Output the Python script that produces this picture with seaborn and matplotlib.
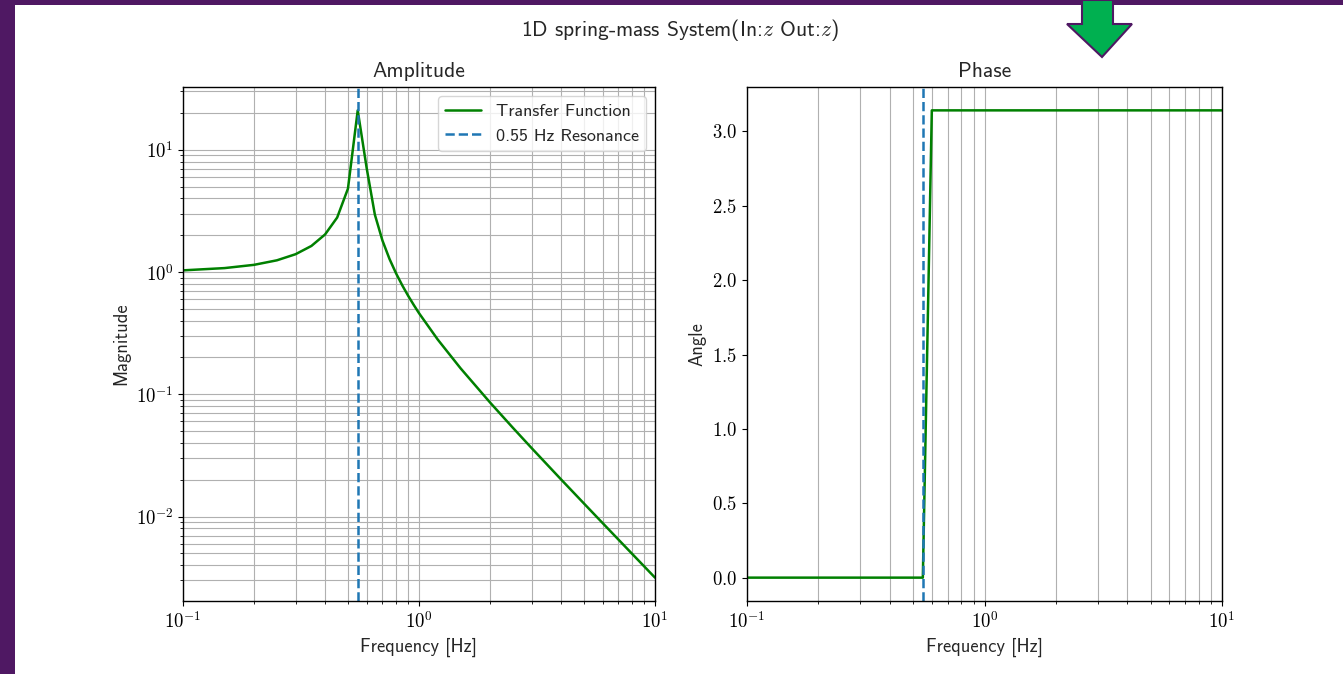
import matplotlib
matplotlib.use("Agg")
import matplotlib.pyplot as plt
import matplotlib.ticker as mticker
from matplotlib.patches import Polygon, Rectangle
import seaborn as sns
import numpy as np

# ---- data ----
freq = [0.1, 0.15, 0.2, 0.25, 0.3, 0.35, 0.4, 0.45, 0.5, 0.55, 0.6, 0.65, 0.7,
        0.75, 0.8, 0.85, 0.9, 0.95, 1.0, 1.2, 1.5, 2.0, 2.5, 3.0, 4.0, 5.0,
        6.0, 7.0, 8.0, 9.0, 10.0]
magnitude = [1.032, 1.077, 1.145, 1.247, 1.399, 1.634, 2.03, 2.79, 4.81, 21.0,
             7.1, 2.95, 1.81, 1.278, 0.973, 0.776, 0.6385, 0.538, 0.461,
             0.2807, 0.1632, 0.0857, 0.0532, 0.03634, 0.02012, 0.01279,
             0.008845, 0.006483, 0.004955, 0.003912, 0.003166]
phase = [0.0] * 10 + [3.14159] * 21
resonance = 0.55
line_label = "Transfer Function"
res_label = "0.55 Hz Resonance"
suptitle = r"1D spring-mass System(In:$z$ Out:$z$)"

sns.set_style("ticks")
plt.rcParams.update({
    "font.family": ["cmss10", "DejaVu Sans"],
    "mathtext.fontset": "cm",
    "axes.formatter.use_mathtext": True,
    "axes.unicode_minus": False,
    "xtick.direction": "out",
    "ytick.direction": "out",
    "axes.edgecolor": "black",
    "axes.linewidth": 1.0,
    "xtick.color": "black",
    "ytick.color": "black",
    "grid.color": "#b0b0b0",
    "grid.linewidth": 0.8,
})

fig = plt.figure(figsize=(13.43, 6.74), dpi=100)
fig.patch.set_facecolor("white")

# slide decoration: purple frame and green arrow
purple = "#4f1863"
fig.patches.append(Rectangle((0, 0), 15 / 1343, 1, transform=fig.transFigure,
                             facecolor=purple, edgecolor="none", zorder=-5))
fig.patches.append(Rectangle((0, 1 - 5 / 674), 1, 5 / 674, transform=fig.transFigure,
                             facecolor=purple, edgecolor="none", zorder=-5))
arrow_px = [(1082, 0), (1113, 0), (1113, 24), (1132, 24), (1102, 57),
            (1067, 24), (1082, 24)]
arrow = [(x / 1343, 1 - y / 674) for x, y in arrow_px]
fig.patches.append(Polygon(arrow, closed=True, transform=fig.transFigure,
                           facecolor="#00b050", edgecolor=purple, linewidth=1.5,
                           zorder=5))

ax1 = fig.add_axes([183 / 1343, 1 - 601 / 674, 472 / 1343, 514 / 674])
ax2 = fig.add_axes([747 / 1343, 1 - 601 / 674, 475 / 1343, 514 / 674])

math_log = mticker.FuncFormatter(lambda v, p: r"$10^{%d}$" % round(np.log10(v)) if v > 0 else "")
math_lin = mticker.FuncFormatter(lambda v, p: r"$%.1f$" % v)

# Amplitude
sns.lineplot(x=freq, y=magnitude, ax=ax1, color="green", linewidth=1.8,
             label=line_label, sort=True)
ax1.axvline(resonance, color="#1f77b4", linestyle="--", linewidth=1.8, label=res_label)
ax1.set_xscale("log")
ax1.set_yscale("log")
ax1.set_xlim(0.1, 10)
ax1.grid(True, which="both")
ax1.set_title("Amplitude", fontsize=15.5, pad=7)
ax1.set_xlabel("Frequency [Hz]", fontsize=13.3)
ax1.set_ylabel("Magnitude", fontsize=13.3)
ax1.xaxis.set_major_formatter(math_log)
ax1.yaxis.set_major_formatter(math_log)
ax1.xaxis.set_minor_formatter(mticker.NullFormatter())
ax1.yaxis.set_minor_formatter(mticker.NullFormatter())
leg = ax1.legend(loc="upper right", fontsize=13, frameon=True, fancybox=True)
leg.get_frame().set_edgecolor("#cccccc")

# Phase
sns.lineplot(x=freq, y=phase, ax=ax2, color="green", linewidth=1.8, sort=True)
ax2.axvline(resonance, color="#1f77b4", linestyle="--", linewidth=1.8)
ax2.set_xscale("log")
ax2.set_xlim(0.1, 10)
ax2.grid(True, which="both", axis="x")
ax2.set_title("Phase", fontsize=15.5, pad=7)
ax2.set_xlabel("Frequency [Hz]", fontsize=13.3)
ax2.set_ylabel("Angle", fontsize=13.3)
ax2.xaxis.set_major_formatter(math_log)
ax2.xaxis.set_minor_formatter(mticker.NullFormatter())
ax2.yaxis.set_major_locator(mticker.MultipleLocator(0.5))
ax2.yaxis.set_major_formatter(math_lin)

for ax in (ax1, ax2):
    ax.tick_params(labelsize=13.5)
    for s in ax.spines.values():
        s.set_visible(True)

fig.text(0.5 + 8 / 1343, 1 - 30 / 674, suptitle, ha="center", va="center", fontsize=15.5)

fig.savefig("out.png", dpi=100, facecolor=fig.get_facecolor())
